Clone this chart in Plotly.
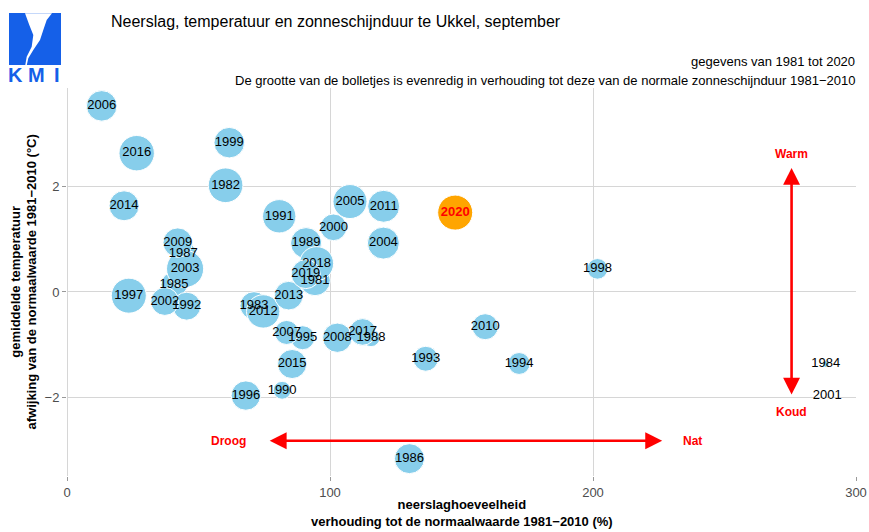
import plotly.graph_objects as go

# ---------------- data ----------------
jaren = list(range(1981, 2021))
neerslag = [94.3, 60.3, 71.1, 288.5, 40.7, 130.2, 44.2, 115.6, 90.9, 81.8,
            80.7, 45.5, 136.4, 171.9, 89.6, 68.0, 23.5, 201.7, 61.7, 101.3,
            289.1, 37.2, 44.9, 120.3, 107.6, 13.2, 83.5, 102.8, 42.1, 159.0,
            120.4, 74.6, 84.3, 21.7, 85.6, 26.5, 112.4, 94.9, 90.8, 147.6]
temperatuur = [0.22, 2.03, -0.26, -1.37, 0.14, -3.17, 0.72, -0.87, 0.93, -1.87,
               1.44, -0.27, -1.27, -1.36, -0.87, -1.97, -0.07, 0.44, 2.84, 1.23,
               -1.97, -0.18, 0.44, 0.93, 1.72, 3.54, -0.77, -0.87, 0.94, -0.66,
               1.63, -0.37, -0.07, 1.64, -1.37, 2.64, -0.76, 0.54, 0.34, 1.51]
zon = [105, 135, 88, 5, 76, 101, 76, 36, 108, 36,
       125, 88, 70, 54, 65, 97, 138, 48, 105, 80,
       0, 88, 155, 115, 130, 105, 65, 97, 97, 76,
       115, 125, 92, 101, 95, 141, 80, 130, 95, 138]
x_ticks = [0, 100, 200, 300]
y_ticks = [-2, 0, 2]
huidig_jaar = 2020

FONT = "Liberation Sans, Arial, sans-serif"
W, H = 869, 532
ML, MR, MT, MB = 67, 13, 88, 56
PW, PH = W - ML - MR, H - MT - MB


def px2x(px):
    return (px - ML) / PW


def px2y(py):
    return (H - MB - py) / PH


SIZEREF = 0.225

oud = [i for i, j in enumerate(jaren) if j != huidig_jaar]
nu = [i for i, j in enumerate(jaren) if j == huidig_jaar]

fig = go.Figure()
fig.add_trace(go.Scatter(
    x=[neerslag[i] for i in oud], y=[temperatuur[i] for i in oud],
    text=[str(jaren[i]) for i in oud], mode="markers+text",
    textposition="middle center",
    textfont=dict(family=FONT, size=13, color="black"),
    marker=dict(size=[zon[i] for i in oud], sizemode="area", sizeref=SIZEREF,
                color="#87CEEB", opacity=1, line=dict(color="white", width=1)),
    hoverinfo="skip", showlegend=False, cliponaxis=False))
fig.add_trace(go.Scatter(
    x=[neerslag[i] for i in nu], y=[temperatuur[i] for i in nu],
    text=["<b>%d</b>" % jaren[i] for i in nu], mode="markers+text",
    textposition="middle center",
    textfont=dict(family=FONT, size=13, color="red"),
    marker=dict(size=[zon[i] for i in nu], sizemode="area", sizeref=SIZEREF,
                color="#FFA500", opacity=1, line=dict(color="white", width=1)),
    hoverinfo="skip", showlegend=False, cliponaxis=False))

annotations = []
# arrows
annotations.append(dict(x=226.3, y=-2.83, ax=76.5, ay=-2.83, xref="x", yref="y",
                        axref="x", ayref="y", text="", showarrow=True,
                        arrowhead=2, arrowsize=1.3, arrowwidth=2.6,
                        arrowside="end+start", arrowcolor="red"))
annotations.append(dict(x=275.5, y=2.36, ax=275.5, ay=-1.98, xref="x", yref="y",
                        axref="x", ayref="y", text="", showarrow=True,
                        arrowhead=2, arrowsize=1.3, arrowwidth=2.6,
                        arrowside="end+start", arrowcolor="red"))
for txt, xx, yy in [("Droog", 61.4, -2.83), ("Nat", 237.7, -2.83),
                    ("Warm", 275.5, 2.62), ("Koud", 275.5, -2.28)]:
    annotations.append(dict(x=xx, y=yy, xref="x", yref="y", text="<b>%s</b>" % txt,
                            showarrow=False, font=dict(family=FONT, size=12, color="red")))

# titles
annotations.append(dict(x=px2x(109), y=px2y(21.5), xref="paper", yref="paper",
                        xanchor="left", yanchor="middle", showarrow=False,
                        text="Neerslag, temperatuur en zonneschijnduur te Ukkel, september",
                        font=dict(family=FONT, size=16, color="black")))
annotations.append(dict(x=px2x(857), y=px2y(61), xref="paper", yref="paper",
                        xanchor="right", yanchor="middle", showarrow=False,
                        text="gegevens van 1981 tot 2020",
                        font=dict(family=FONT, size=13, color="black")))
annotations.append(dict(x=px2x(857), y=px2y(80), xref="paper", yref="paper",
                        xanchor="right", yanchor="middle", showarrow=False,
                        text="De grootte van de bolletjes is evenredig in verhouding tot deze van de normale zonneschijnduur 1981\u22122010",
                        font=dict(family=FONT, size=13, color="black")))
# axis titles
annotations.append(dict(x=px2x(462), y=px2y(512.5), xref="paper", yref="paper",
                        xanchor="center", yanchor="middle", showarrow=False,
                        text="<b>neerslaghoeveelheid</b><br><b>verhouding tot de normaalwaarde 1981\u22122010 (%)</b>",
                        font=dict(family=FONT, size=13, color="black")))
annotations.append(dict(x=px2x(23.5), y=0.5, xref="paper", yref="paper",
                        xanchor="center", yanchor="middle", showarrow=False, textangle=-90,
                        text="<b>gemiddelde temperatuur</b><br><b>afwijking van de normaalwaarde 1981\u22122010 (\u00b0C)</b>",
                        font=dict(family=FONT, size=13, color="black")))
# KMI logo letters
for letter, cx in [("K", 15.5), ("M", 36.5), ("I", 57)]:
    annotations.append(dict(x=px2x(cx), y=px2y(75), xref="paper", yref="paper",
                            xanchor="center", yanchor="middle", showarrow=False,
                            text="<b>%s</b>" % letter,
                            font=dict(family=FONT, size=20, color="#1560E8")))

shapes = []
shapes.append(dict(type="rect", xref="paper", yref="paper",
                   x0=px2x(9), x1=px2x(61), y0=px2y(65), y1=px2y(13),
                   fillcolor="#1560E8", line=dict(width=0), layer="above"))
lb = [(25, 13.3), (29.3, 25), (33.3, 35), (31.7, 46.7), (26.7, 56.7), (25.3, 65)]
rb = [(26.8, 65), (28.3, 58.3), (33.3, 50), (40, 40), (43.3, 30), (46.7, 20), (52, 13.3)]
pts = lb + rb
path = "M " + " L ".join("%.5f,%.5f" % (px2x(a), px2y(b)) for a, b in pts) + " Z"
shapes.append(dict(type="path", xref="paper", yref="paper", path=path,
                   fillcolor="white", line=dict(width=0), layer="above"))

GRID = "#d6d6d6"
fig.update_layout(
    width=W, height=H, margin=dict(l=ML, r=MR, t=MT, b=MB, autoexpand=False),
    plot_bgcolor="white", paper_bgcolor="white",
    font=dict(family=FONT),
    annotations=annotations, shapes=shapes,
    xaxis=dict(range=[0, 300], tickvals=x_ticks, showgrid=True, gridcolor=GRID,
               gridwidth=1.2, zeroline=True, zerolinecolor=GRID, zerolinewidth=1.2,
               ticks="outside", ticklen=4, tickcolor="#999999", automargin=False,
               tickfont=dict(family=FONT, size=13, color="#4d4d4d"), showline=False),
    yaxis=dict(range=[-3.5, 3.88], tickvals=y_ticks, showgrid=True, gridcolor=GRID,
               gridwidth=1.2, zeroline=True, zerolinecolor=GRID, zerolinewidth=1.2,
               ticks="outside", ticklen=4, tickcolor="#999999", automargin=False,
               tickfont=dict(family=FONT, size=13, color="#4d4d4d"), showline=False),
)

fig.write_html("out.html", config={"displayModeBar": False},
               post_script="document.body.style.margin='0';document.body.style.padding='0';"
                           "document.body.style.overflow='hidden';")
